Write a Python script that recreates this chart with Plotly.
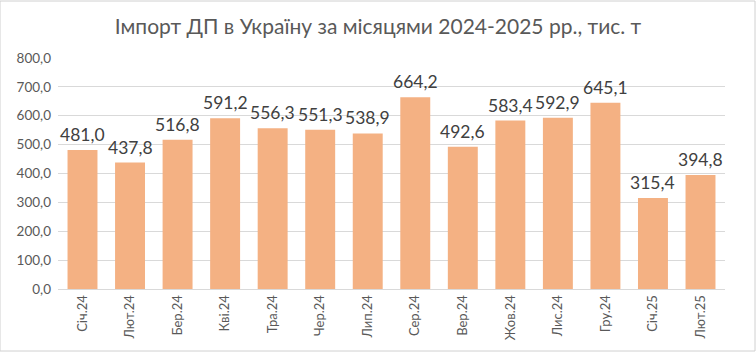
import plotly.graph_objects as go

months = ["Січ.24", "Лют.24", "Бер.24", "Кві.24", "Тра.24", "Чер.24", "Лип.24",
          "Сер.24", "Вер.24", "Жов.24", "Лис.24", "Гру.24", "Січ.25", "Лют.25"]
values = [481.0, 437.8, 516.8, 591.2, 556.3, 551.3, 538.9,
          664.2, 492.6, 583.4, 592.9, 645.1, 315.4, 394.8]
tick_vals = [0, 100, 200, 300, 400, 500, 600, 700, 800]
tick_text = ["0,0", "100,0", "200,0", "300,0", "400,0", "500,0", "600,0", "700,0", "800,0"]
title = "Імпорт ДП в Україну за місяцями 2024-2025 рр., тис. т"

labels = [f"{v:.1f}".replace(".", ",") for v in values]

FONT = "Lato"

fig = go.Figure(go.Bar(
    x=months, y=values,
    marker=dict(color="#F4B183", line=dict(width=0)),
))

for m, v, t in zip(months, values, labels):
    fig.add_annotation(x=m, y=v, text=t, showarrow=False, yanchor="bottom",
                       yshift=3, font=dict(size=17.5, color="#404040", family=FONT))

fig.update_layout(
    width=756, height=352,
    margin=dict(l=58, r=31, t=58, b=63),
    paper_bgcolor="white", plot_bgcolor="white",
    bargap=0.37,
    showlegend=False,
    title=dict(text=title, x=0.5, xanchor="center", y=0.925, yanchor="middle",
               font=dict(size=21, color="#595959", family=FONT)),
    xaxis=dict(tickangle=-90, tickfont=dict(size=13, color="#595959", family=FONT),
               showline=True, linecolor="#D9D9D9", linewidth=1, ticks=""),
    yaxis=dict(range=[0, 800], tickvals=tick_vals, ticktext=tick_text,
               tickfont=dict(size=13.5, color="#595959", family=FONT),
               showgrid=True, gridcolor="#D9D9D9", gridwidth=1, zeroline=False,
               ticks="", ticklabelstandoff=6),
    shapes=[dict(type="rect", xref="paper", yref="paper", x0=-58/667, x1=1+30/667,
                 y0=-62/231, y1=1+57/231, line=dict(color="#D0D0D0", width=1))],
)

fig.write_html("out.html")
